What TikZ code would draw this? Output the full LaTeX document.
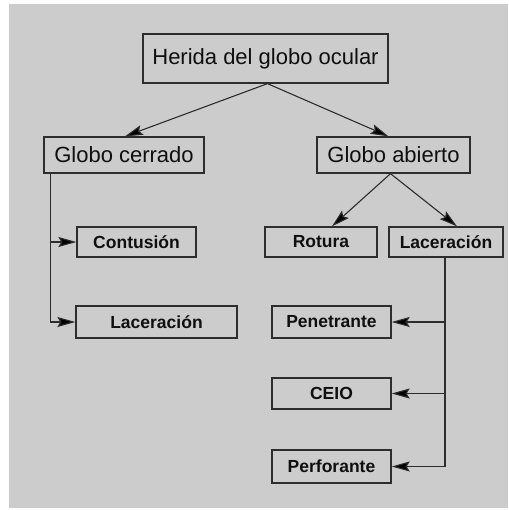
\documentclass[tikz,border=0pt]{standalone}
\usepackage{fontspec}
\setmainfont{Liberation Sans}
\usetikzlibrary{arrows.meta}
\definecolor{bggray}{RGB}{204,204,204}
\definecolor{linecol}{RGB}{45,45,45}
\definecolor{txtcol}{RGB}{15,15,15}
\begin{document}
\begin{tikzpicture}[x=1pt,y=-1pt,
  box/.style={draw=linecol,line width=1.3pt,fill=bggray,text=txtcol,inner sep=0pt,anchor=center},
  bigbox/.style={box,font=\fontsize{22}{24}\selectfont},
  smallbox/.style={box,font=\fontsize{17.5}{20}\selectfont\bfseries},
  arr/.style={draw=linecol,line width=1.1pt,-{Stealth[length=18pt,width=10pt,inset=3pt,fill=black]}}]
\useasboundingbox (0,0) rectangle (508,510);
\fill[white] (0,0) rectangle (508,510);
\fill[bggray] (9,4) rectangle (508,508);

\node[bigbox,minimum width=245pt,minimum height=49pt] (herida) at (265.5,58.5) {Herida del globo ocular};
\node[bigbox,minimum width=160pt,minimum height=36pt] (gcerr) at (124,155) {Globo cerrado};
\node[bigbox,minimum width=153pt,minimum height=36pt] (gabie) at (393.5,155) {Globo abierto};
\node[smallbox,minimum width=119pt,minimum height=30pt] (contu) at (136.5,242) {Contusión};
\node[smallbox,minimum width=112pt,minimum height=30pt] (rotura) at (321,242) {Rotura};
\node[smallbox,minimum width=114pt,minimum height=30pt] (lacr) at (446,242) {Laceración};
\node[smallbox,minimum width=161pt,minimum height=32pt] (lacl) at (156.5,322) {Laceración};
\node[smallbox,minimum width=119pt,minimum height=32pt] (pene) at (331.5,322) {Penetrante};
\node[smallbox,minimum width=119pt,minimum height=31pt] (ceio) at (331.5,393.5) {CEIO};
\node[smallbox,minimum width=119pt,minimum height=33pt] (perf) at (331.5,466.5) {Perforante};

\draw[arr] ([xshift=2pt]herida.south) -- ([xshift=1pt]gcerr.north);
\draw[arr] ([xshift=2pt]herida.south) -- ([xshift=-5pt]gabie.north);
\draw[arr] ([xshift=-3pt]gabie.south) -- ([xshift=11pt]rotura.north);
\draw[arr] ([xshift=-3pt]gabie.south) -- ([xshift=11pt]lacr.north);

\coordinate (ltrunk) at ([xshift=7pt]gcerr.south west);
\draw[arr] (ltrunk) |- (contu.west);
\draw[arr] (ltrunk) |- (lacl.west);

\draw[arr] ([xshift=-1pt]lacr.south) |- (pene.east);
\draw[arr] ([xshift=-1pt]lacr.south) |- (ceio.east);
\draw[arr] ([xshift=-1pt]lacr.south) |- (perf.east);
\end{tikzpicture}
\end{document}
